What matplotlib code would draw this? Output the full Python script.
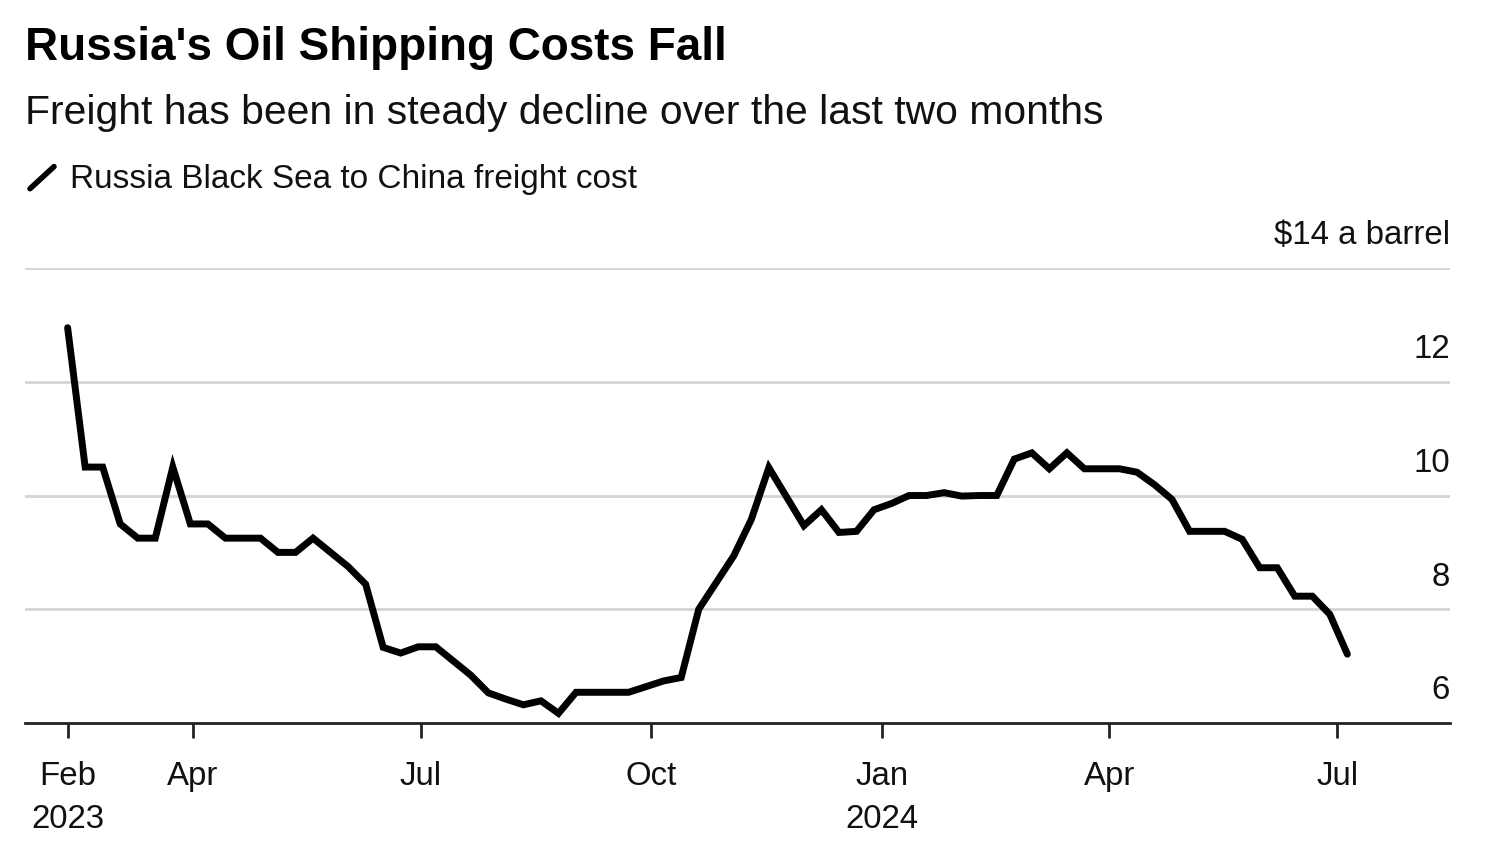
import matplotlib.pyplot as plt
import pandas as pd

# Weekly freight cost, Russia Black Sea -> China ($ a barrel)
fechas = pd.date_range("2023-02-10", periods=74, freq="7D")
costo = [
    12.95, 10.5, 10.5, 9.5, 9.25, 9.25, 10.5, 9.5, 9.5, 9.25,
    9.25, 9.25, 9.0, 9.0, 9.25, 9.0, 8.75, 8.44, 7.33, 7.23,
    7.34, 7.34, 7.09, 6.84, 6.53, 6.42, 6.32, 6.39, 6.17, 6.54,
    6.54, 6.54, 6.54, 6.64, 6.74, 6.8, 8.0, 8.47, 8.94, 9.58,
    10.49, 9.98, 9.47, 9.75, 9.35, 9.37, 9.75, 9.86, 10.0, 10.0,
    10.05, 9.99, 10.0, 10.0, 10.64, 10.75, 10.47, 10.75, 10.47, 10.47,
    10.47, 10.41, 10.19, 9.93, 9.37, 9.37, 9.37, 9.23, 8.73, 8.73,
    8.23, 8.23, 7.91, 7.21,
]

y_ticks = [6, 8, 10, 12, 14]
y_labels = ["6", "8", "10", "12", "$14 a barrel"]
x_ticks = pd.to_datetime(["2023-02-10", "2023-04-01", "2023-07-01", "2023-10-01",
                          "2024-01-01", "2024-04-01", "2024-07-01"])
x_labels = ["Feb\n2023", "Apr", "Jul", "Oct", "Jan\n2024", "Apr", "Jul"]

plt.rcParams['font.family'] = ['Liberation Sans', 'DejaVu Sans']

fig = plt.figure(figsize=(15, 8.5), dpi=100)
ax = fig.add_axes([0.0167, 0.1494, 0.95, 0.5353])

ax.plot(fechas, costo, color='black', linewidth=5, solid_joinstyle='miter',
        solid_capstyle='round', zorder=3)

ax.set_ylim(6, 14)
ax.set_xlim(pd.Timestamp("2023-01-24"), pd.Timestamp("2024-08-15"))

# gridlines + labels sitting above them on the right
for v, lab in zip(y_ticks, y_labels):
    if v > 6:
        ax.axhline(v, color='#d4d4d4', linewidth=2, zorder=1)
    ax.annotate(lab, xy=(1, v), xycoords=('axes fraction', 'data'),
                xytext=(0, 12), textcoords='offset points',
                ha='right', va='bottom', fontsize=23.8, color='#111111')
ax.set_yticks([])

ax.set_xticks(x_ticks)
ax.set_xticklabels(x_labels, fontsize=23.8, color='#111111', linespacing=1.5)
ax.tick_params(axis='x', length=11, width=2, color='#222222', pad=16)

for s in ['top', 'right', 'left']:
    ax.spines[s].set_visible(False)
ax.spines['bottom'].set_color('#222222')
ax.spines['bottom'].set_linewidth(2)

fig.text(0.0167, 0.943, "Russia's Oil Shipping Costs Fall", fontsize=33,
         fontweight='bold', ha='left', va='center', color='black')
fig.text(0.0167, 0.867, "Freight has been in steady decline over the last two months",
         fontsize=29.4, ha='left', va='center', color='#111111')
fig.lines.append(plt.Line2D([0.020, 0.036], [0.778, 0.804], transform=fig.transFigure,
                            color='black', linewidth=4, solid_capstyle='round'))
fig.text(0.0467, 0.789, "Russia Black Sea to China freight cost", fontsize=24,
         ha='left', va='center', color='#111111')

fig.savefig('out.png', dpi=100, facecolor='white')
